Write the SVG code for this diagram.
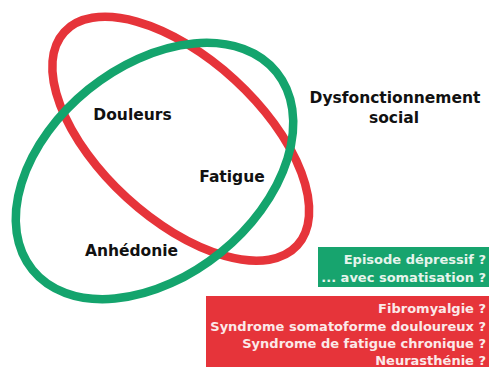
<svg xmlns="http://www.w3.org/2000/svg" width="489" height="367" viewBox="0 0 489 367">
<style>
.lbl{font-family:"DejaVu Sans","Verdana",sans-serif;font-weight:bold;font-size:15.5px;fill:#111;text-anchor:middle}
.box{font-family:"DejaVu Sans","Verdana",sans-serif;font-weight:bold;font-size:13px;text-anchor:end}
.ring{fill:none;stroke-width:8.5}
</style>
<rect width="489" height="367" fill="#ffffff"/>
<g id="sets">
<ellipse id="red-set" class="ring" cx="180.75" cy="138.75" rx="158" ry="80" transform="rotate(42.5 180.75 138.75)" stroke="#E6343A"/>
<ellipse id="green-set" class="ring" cx="154.5" cy="171" rx="157" ry="105" transform="rotate(-39 154.5 171)" stroke="#14A46D"/>
</g>
<g id="douleurs"><text class="lbl" x="132.5" y="120">Douleurs</text></g>
<g id="fatigue"><text class="lbl" x="232" y="182">Fatigue</text></g>
<g id="anhedonie"><text class="lbl" x="131.5" y="256">Anhédonie</text></g>
<g id="dysfonctionnement">
<text class="lbl" x="395" y="103">Dysfonctionnement</text>
<text class="lbl" x="394" y="123">social</text>
</g>
<g id="box-depression">
<rect x="318" y="247" width="171" height="40" fill="#17A46E"/>
<text class="box" x="486" y="264" fill="#E6F4EC">Episode dépressif ?</text>
<text class="box" x="486" y="282" fill="#E6F4EC">... avec somatisation ?</text>
</g>
<g id="box-somatic">
<rect x="206" y="296" width="283" height="71" fill="#E6343A"/>
<text class="box" x="486" y="313" fill="#FBE9E9">Fibromyalgie ?</text>
<text class="box" x="486" y="330.5" fill="#FBE9E9">Syndrome somatoforme douloureux ?</text>
<text class="box" x="486" y="348" fill="#FBE9E9">Syndrome de fatigue chronique ?</text>
<text class="box" x="486" y="364.5" fill="#FBE9E9">Neurasthénie ?</text>
</g>
</svg>
